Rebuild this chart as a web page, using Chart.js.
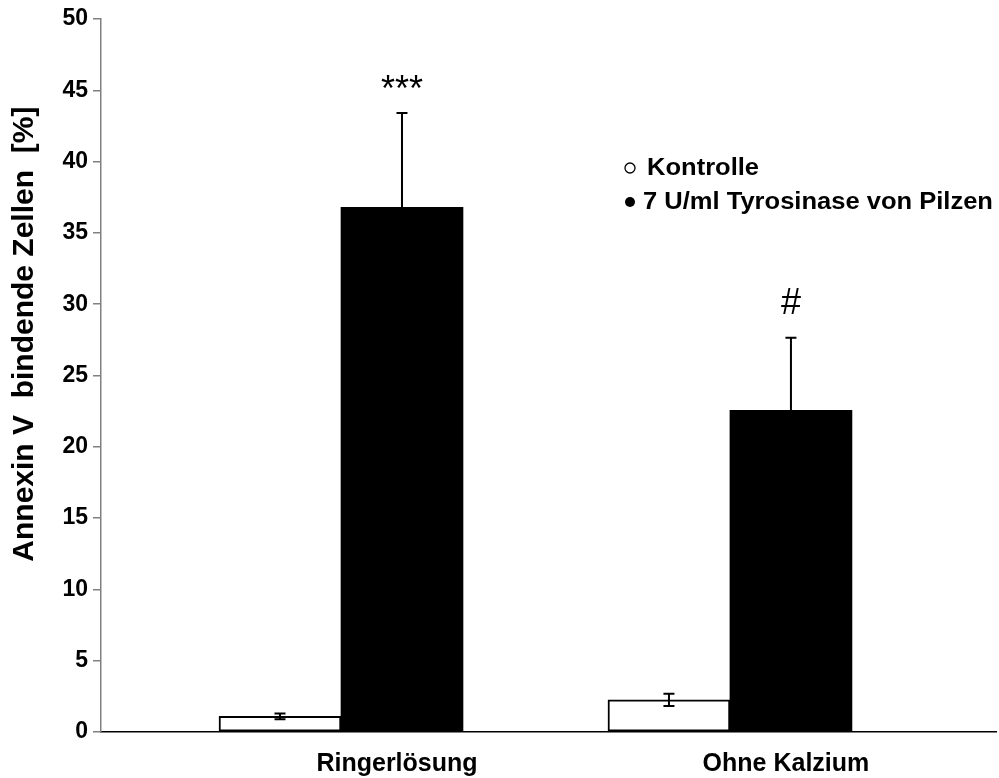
<!DOCTYPE html>
<html>
<head>
<meta charset="utf-8">
<title>Annexin V bindende Zellen</title>
<script src="https://cdn.jsdelivr.net/npm/chart.js@4/dist/chart.umd.min.js"></script>
<style>
  html, body { margin: 0; padding: 0; background: #fff; }
  canvas { display: block; }
</style>
</head>
<body>
<canvas id="chart" width="999" height="778"></canvas>
<script>
// Groups on the x axis
const categories = ['Ringerlösung', 'Ohne Kalzium'];
// Series names shown in the legend
const seriesNames = ['Kontrolle', '7 U/ml Tyrosinase von Pilzen'];
// Mean values (%) and their errors
const kontrolle = [1.1, 2.25];
const kontrolleErr = [0.2, 0.43];
const tyrosinase = [36.8, 22.55];
const tyrosinaseErr = [6.6, 5.1];
// Significance marks above the treated bars
const significance = ['***', '#'];
// Y axis ticks
const yTicks = [0, 5, 10, 15, 20, 25, 30, 35, 40, 45, 50];
const yTitle = 'Annexin V  bindende Zellen  [%]';

const FONT = "'Liberation Sans', Arial, Helvetica, sans-serif";
Chart.defaults.font.family = FONT;
Chart.defaults.color = '#000';

// Error bars, significance marks, y title and legend drawn on top of the bars
const annotate = {
  id: 'annotate',
  afterDatasetsDraw(chart) {
    const ctx = chart.ctx;
    const y = chart.scales.y;
    ctx.save();
    chart.data.datasets.forEach((ds, di) => {
      const meta = chart.getDatasetMeta(di);
      meta.data.forEach((bar, i) => {
        const v = ds.data[i].y;
        const e = ds.errors[i];
        const top = y.getPixelForValue(v + e);
        const bot = y.getPixelForValue(v - e);
        const x = bar.x;
        ctx.strokeStyle = '#000';
        ctx.lineWidth = 2;
        ctx.beginPath();
        ctx.moveTo(x, top); ctx.lineTo(x, bot);
        ctx.moveTo(x - 5.5, top); ctx.lineTo(x + 5.5, top);
        ctx.moveTo(x - 5.5, bot); ctx.lineTo(x + 5.5, bot);
        ctx.stroke();
        if (ds.marks && ds.marks[i]) {
          ctx.font = '36px ' + FONT;
          ctx.fillStyle = '#000';
          ctx.textAlign = 'center';
          ctx.textBaseline = 'alphabetic';
          const m = ctx.measureText(ds.marks[i]);
          ctx.fillText(ds.marks[i], x, top - 24 - m.actualBoundingBoxDescent);
        }
      });
    });
    ctx.restore();
  },
  afterDraw(chart) {
    const ctx = chart.ctx;
    const area = chart.chartArea;
    ctx.save();
    // y axis title
    ctx.translate(25, area.top + (area.bottom - area.top) * 0.442);
    ctx.rotate(-Math.PI / 2);
    ctx.font = 'bold 30px ' + FONT;
    ctx.fillStyle = '#000';
    ctx.textAlign = 'center';
    ctx.textBaseline = 'middle';
    ctx.fillText(yTitle, 0, 0);
    ctx.restore();

    // legend
    const lx = 625, ly = 168, step = 34;
    chart.data.datasets.forEach((ds, i) => {
      const cy = ly + i * step;
      ctx.save();
      ctx.beginPath();
      ctx.arc(lx + 5, cy, 5, 0, Math.PI * 2);
      ctx.lineWidth = 1.3;
      ctx.strokeStyle = '#000';
      ctx.fillStyle = '#000';
      if (i === 0) { ctx.stroke(); } else { ctx.fill(); }
      ctx.translate(lx + (i === 0 ? 22 : 18), cy + 1);
      ctx.scale(1.11, 1);
      ctx.font = 'bold 23px ' + FONT;
      ctx.textAlign = 'left';
      ctx.textBaseline = 'middle';
      ctx.fillText(ds.label, 0, 0);
      ctx.restore();
    });
  }
};

new Chart(document.getElementById('chart'), {
  type: 'bar',
  data: {
    datasets: [
      {
        label: seriesNames[0],
        data: categories.map((c, i) => ({ x: i, y: kontrolle[i] })),
        errors: kontrolleErr,
        backgroundColor: '#fff',
        borderColor: '#000',
        borderWidth: 2,
        borderSkipped: false,
        barThickness: 122
      },
      {
        label: seriesNames[1],
        data: categories.map((c, i) => ({ x: i, y: tyrosinase[i] })),
        errors: tyrosinaseErr,
        marks: significance,
        backgroundColor: '#000',
        borderColor: '#000',
        borderWidth: 0,
        borderSkipped: false,
        barThickness: 122
      }
    ]
  },
  options: {
    responsive: false,
    animation: false,
    devicePixelRatio: 1,
    layout: { padding: { top: 19, right: 3, left: 0, bottom: 0 } },
    plugins: { legend: { display: false }, tooltip: { enabled: false } },
    scales: {
      x: {
        type: 'linear',
        offset: false,
        min: -0.617,
        max: 1.684,
        grid: { display: false, drawTicks: false },
        border: { display: true, color: '#000', width: 1.5 },
        afterBuildTicks: (s) => { s.ticks = categories.map((c, i) => ({ value: i })); },
        afterFit: (s) => { s.height = 46; },
        ticks: {
          font: { size: 25, weight: 'bold' },
          color: '#000',
          padding: 17,
          labelOffset: 56,
          maxRotation: 0,
          autoSkip: false,
          callback: (v) => categories[v] ?? ''
        }
      },
      y: {
        min: 0,
        max: 50,
        afterBuildTicks: (s) => { s.ticks = yTicks.map(v => ({ value: v })); },
        afterFit: (s) => { s.width = 101; },
        grid: { drawOnChartArea: false, drawTicks: true, tickLength: 8, color: '#808080', lineWidth: 1.5 },
        border: { display: true, color: '#808080', width: 1.5 },
        ticks: {
          font: { size: 23, weight: 'bold' },
          color: '#000',
          padding: 5
        }
      }
    }
  },
  plugins: [annotate]
});
</script>
</body>
</html>
